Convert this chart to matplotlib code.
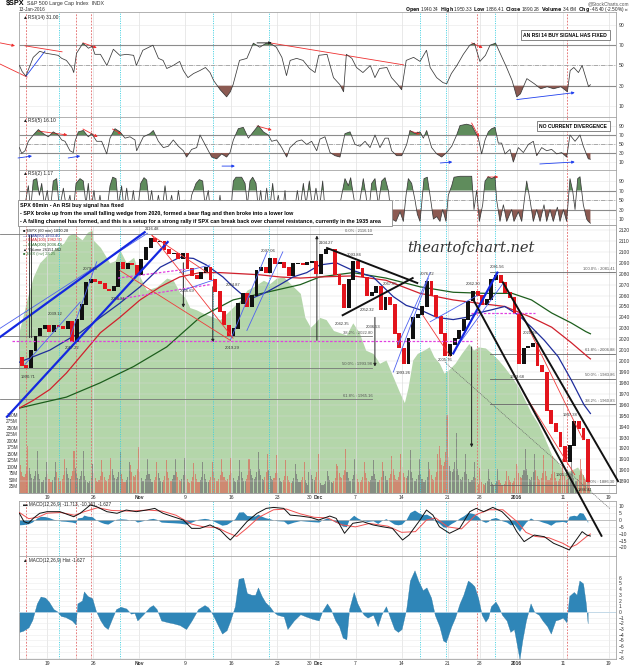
import matplotlib
import numpy as np

matplotlib.use("Agg")
import matplotlib.pyplot as plt
from matplotlib.patches import Rectangle

W, H = 640, 668
LEFT, RIGHT = 19.4, 616.0
PX_PER_DAY = 9.21
X_MAX = (RIGHT - LEFT) / PX_PER_DAY

plt.rcParams["font.family"] = ["Liberation Sans", "DejaVu Sans"]

# ---------------------------------------------------------------- data
# x axis = trading days since the Oct 14 2015 open (half sessions count 0.5)
WEEK_TICKS = [3, 8, 13, 18, 23, 28, 31.5, 32.5, 36.5, 41.5, 46.5, 50, 54, 59, 64]
WEEK_LABELS = ["19", "26", "Nov", "9", "16", "23", "30", "Dec", "7", "14", "21", "28", "2016", "11", "19"]
BOLD_LABELS = {"Nov", "Dec", "2016"}
RED_EVENTS = [0.72, 6.1, 7.8, 49.7, 59.5]
CYAN_EVENTS = [4.3, 10.9, 21.0, 27.1, 43.5, 46.3, 51.6]

# half-session closes, first value is the open of Oct 14
PRICE_CLOSE = [
    2003, 1996, 1994, 2010, 2023, 2030, 2033, 2027, 2033, 2032, 2030, 2036, 2018,
    2038, 2052, 2072, 2075, 2073, 2071, 2066, 2065, 2068, 2090, 2085, 2089, 2088,
    2079, 2093, 2104, 2112, 2109, 2110, 2102, 2098, 2099, 2094, 2099, 2085, 2078,
    2076, 2081, 2086, 2075, 2064, 2045, 2033, 2023, 2030, 2053, 2062, 2050, 2060,
    2083, 2086, 2081, 2094, 2089, 2090, 2086, 2078, 2089, 2089, 2088, 2090, 2091,
    2080, 2098, 2102, 2102, 2079, 2070, 2049, 2075, 2091, 2085, 2077, 2060, 2063,
    2068, 2047, 2058, 2052, 2025, 2012, 1998, 2021, 2040, 2043, 2050, 2073, 2060,
    2041, 2025, 2005, 2015, 2021, 2028, 2038, 2055, 2064, 2060, 2052, 2056, 2075,
    2078, 2072, 2063, 2058, 2044, 1998, 2012, 2013, 2016, 1996, 1990, 1955, 1943,
    1935, 1922, 1908, 1923, 1945, 1938, 1928, 1890,
]

MA50_X = [0, 1.5, 3.3, 5.5, 6.6, 8.8, 10.9, 13.1, 15.3, 17.4, 18.9, 20.3, 22.1, 23.2, 24.3,
          25.4, 26.8, 28.3, 29.7, 31.2, 32.6, 34.4, 36.2, 38.4, 40.6, 42.0, 43.5, 45.3,
          47.1, 48.5, 49.8, 51.3, 52.7, 54.2, 55.6, 57.0, 58.5, 59.9, 61.3, 62.0]
MA50_V = [1999, 2004, 2010, 2021, 2026, 2040, 2053, 2068, 2086, 2095, 2094, 2088, 2077, 2068,
          2060, 2058, 2063, 2070, 2077, 2081, 2088, 2090, 2083, 2077, 2059, 2051, 2047, 2040,
          2038, 2040, 2044, 2047, 2050, 2042, 2031, 2019, 2004, 1983, 1960, 1952]
MA100_X = [0, 1.5, 3.3, 5.1, 6.9, 8.8, 10.9, 13.1, 15.3, 17.4, 19.6, 21.8, 24.0, 26.1, 28.3,
           30.5, 32.6, 36.2, 39.8, 43.5, 47.1, 49.8, 52.7, 55.6, 57.8, 59.9, 61.7, 62.0]
MA100_V = [1957, 1964, 1974, 1989, 2007, 2026, 2040, 2056, 2068, 2077, 2081, 2081, 2080, 2079,
           2077, 2076, 2077, 2078, 2074, 2062, 2056, 2053, 2050, 2040, 2031, 2017, 2004, 2002]
MA200_X = [0, 1.5, 5.1, 8.75, 12.4, 16.0, 19.6, 23.2, 26.85, 30.5, 32.6, 36.2, 39.8, 43.5,
           47.1, 50.6, 53.5, 55.6, 57.8, 59.9, 61.5, 62.0]
MA200_V = [1957, 1960, 1967, 1980, 1995, 2013, 2040, 2056, 2063, 2070, 2077, 2081, 2076, 2068,
           2063, 2062, 2062, 2056, 2044, 2035, 2027, 2025]

# light green overlay, in price-panel units
AREA_X = [0, 0.3, 0.9, 1.5, 2.2, 3.0, 3.7, 4.8, 5.3, 5.9, 6.8, 7.4, 7.9, 8.0, 8.8, 9.3, 9.8,
          10.4, 10.9, 11.6, 12.4, 13.1, 13.8, 14.9, 16.0, 16.7, 17.4, 18.0, 18.5, 19.2, 19.9,
          21.1, 21.8, 22.9, 24.0, 24.7, 25.4, 26.5, 27.2, 27.9, 28.7, 29.4, 30.5, 31.0, 31.6,
          32.1, 32.6, 33.3, 34.1, 34.8, 35.5, 36.2, 36.9, 37.6, 38.4, 39.1, 39.8, 40.6, 41.3,
          41.8, 42.2, 42.7, 43.2, 43.9, 44.5, 45.0, 45.6, 46.1, 46.6, 47.3, 48.0, 48.8, 49.3,
          49.8, 50.6, 51.3, 52.0, 52.7, 53.5, 54.2, 54.9, 55.6, 56.3, 57.0, 57.8, 58.5, 59.2,
          59.9, 60.6, 61.4, 61.7, 62.0]
AREA_V = [2028, 2038, 2059, 2077, 2090, 2097, 2102, 2108, 2115, 2117, 2111, 2118, 2120, 2111,
          2104, 2097, 2090, 2092, 2102, 2090, 2095, 2077, 2065, 2068, 2076, 2074, 2063, 2058,
          2049, 2047, 2044, 2040, 2038, 2047, 2056, 2065, 2068, 2074, 2071, 2076, 2077, 2071,
          2062, 2040, 2031, 2035, 2040, 2038, 2028, 2026, 2024, 2035, 2026, 2010, 2007, 1998,
          2001, 1985, 1971, 1962, 1976, 2001, 2007, 2010, 2013, 2004, 1998, 1989, 1992, 1998,
          2007, 2016, 2010, 2013, 2012, 2007, 2001, 1994, 1985, 1976, 1964, 1952, 1943, 1930,
          1914, 1907, 1898, 1900, 1903, 1893, 1884, 1884]

# volume: tallest hourly bar of each session (M) and the typical hourly profile
SESSION_HALF = [31, 50]  # Nov 27 and Dec 24 sessions
VOL_PEAK = [180, 160, 120, 120, 130, 160, 160, 110, 125, 135, 155, 120, 175, 130, 120, 125,
            130, 135, 115, 120, 120, 130, 135, 125, 130, 155, 150, 145, 125, 110, 120, 80,
            150, 85, 110, 170, 130, 120, 125, 120, 140, 150, 165, 130, 120, 150, 300, 230,
            150, 120, 95, 90, 90, 85, 110, 170, 150, 145, 140, 130, 140, 130, 150]
VOL_PROFILE = [0.6, 0.45, 0.36, 0.34, 0.4, 0.52, 1.0]
VOL_TICKS = [25, 50, 75, 100, 125, 150, 175, 200, 225, 250, 275, 300]

RSI14_X = [0, 0.3, 0.7, 1.5, 2.2, 2.9, 3.6, 4.2, 4.6, 5.1, 5.7, 5.9, 6.2, 6.9, 7.5, 7.9, 8.2,
           8.8, 9.5, 10.2, 10.9, 11.6, 12.4, 12.7, 13.4, 14.5, 15.1, 15.6, 16.0, 16.7, 17.4,
           17.8, 18.3, 18.9, 19.6, 20.2, 20.7, 21.1, 21.8, 22.5, 22.9, 23.2, 23.9, 24.7, 25.4,
           26.1, 26.8, 27.2, 27.9, 28.5, 29.0, 29.4, 30.1, 30.8, 31.5, 32.1, 32.5, 33.4, 34.1,
           34.8, 35.2, 35.5, 36.1, 36.6, 37.3, 38.1, 38.6, 39.1, 39.9, 40.4, 41.1, 41.5, 42.0,
           42.8, 43.5, 44.2, 44.6, 45.3, 46.0, 46.4, 46.9, 47.5, 48.2, 48.9, 49.4, 50.0, 50.6,
           51.1, 51.7, 52.4, 52.9, 53.5, 54.0, 54.4, 55.1, 55.9, 56.6, 57.3, 58.0, 58.8, 59.5,
           59.8, 60.2, 60.7, 61.1, 61.8, 62.0]
RSI14_V = [50, 44, 39.5, 58, 64, 62, 61, 60, 57, 55, 48, 43, 62, 72, 67, 69, 61, 61, 50, 66,
           60, 61, 60, 50, 65, 70, 57, 55, 47, 50, 54, 45, 38, 42, 45, 48, 43, 35, 26, 19, 24,
           31, 55, 57, 72, 68, 72, 72, 68, 58, 40, 55, 57, 55, 47, 43, 60, 61, 38, 31, 24, 61,
           57, 48, 43, 50, 38, 47, 48, 38, 31, 26, 55, 58, 54, 65, 48, 38, 33, 32, 42, 50, 61,
           70, 72, 54, 60, 70, 72, 58, 48, 35, 19, 22, 37, 32, 27, 29, 27, 29, 24, 45, 48, 43,
           50, 29, 31]

RSI5_X = [0.0, 0.25, 0.61, 0.97, 1.51, 2.06, 2.6, 3.14, 3.68, 4.23, 4.59, 4.95, 5.49, 5.86,
          6.04, 6.4, 6.94, 7.48, 7.85, 8.39, 8.93, 9.48, 9.84, 10.38, 10.92, 11.47, 12.01,
          12.55, 12.73, 13.46, 14.18, 14.54, 15.09, 15.63, 16.17, 16.71, 17.26, 17.8, 18.16,
          18.7, 19.25, 19.61, 20.33, 20.88, 21.42, 21.96, 22.5, 22.87, 23.23, 23.77, 24.31,
          24.86, 25.4, 25.94, 26.49, 27.03, 27.39, 27.93, 28.48, 29.02, 29.38, 30.11, 30.65,
          31.19, 31.73, 32.28, 32.64, 33.18, 33.73, 34.27, 34.81, 35.35, 35.9, 36.44, 36.98,
          37.53, 38.07, 38.61, 39.15, 39.7, 40.06, 40.42, 40.96, 41.51, 42.05, 42.41, 42.95,
          43.5, 43.86, 44.22, 44.76, 45.31, 45.85, 46.39, 46.94, 47.48, 47.84, 48.56, 49.11,
          49.47, 49.83, 50.19, 50.56, 50.92, 51.28, 51.64, 52.0, 52.36, 52.73, 53.27, 53.63,
          54.17, 54.72, 55.26, 55.8, 56.17, 56.71, 57.25, 57.79, 58.34, 58.88, 59.42, 59.78,
          60.33, 60.87, 61.23, 61.77, 62.0]
RSI5_V = [42, 29, 35, 56, 70, 82, 73, 66, 77, 70, 59, 56, 35, 31, 56, 77, 80, 66, 73, 56, 56,
          28, 63, 84, 77, 63, 66, 59, 35, 66, 73, 80, 56, 42, 45, 59, 45, 35, 21, 38, 42, 70,
          42, 21, 17, 28, 21, 31, 59, 84, 87, 63, 77, 91, 77, 70, 56, 59, 42, 21, 42, 56, 59,
          49, 56, 35, 61, 66, 31, 24, 21, 73, 77, 49, 45, 56, 42, 70, 42, 63, 63, 35, 24, 24,
          49, 80, 73, 77, 63, 80, 42, 28, 21, 31, 45, 70, 91, 94, 91, 77, 63, 28, 59, 77, 84,
          87, 52, 52, 28, 38, 10, 42, 31, 49, 56, 24, 42, 35, 38, 28, 31, 21, 70, 56, 70, 45,
          17, 16.1]

RSI2_X = [0.0, 0.43, 0.97, 1.22, 1.51, 1.88, 2.17, 2.42, 2.71, 3.03, 3.32, 3.68, 4.05, 4.34,
          4.77, 5.13, 5.49, 5.78, 6.15, 6.58, 6.94, 7.23, 7.48, 7.74, 8.1, 8.39, 8.75, 9.11,
          9.48, 9.84, 10.13, 10.49, 10.74, 11.1, 11.36, 11.65, 12.01, 12.37, 12.73, 13.17,
          13.53, 13.82, 14.11, 14.36, 14.72, 15.09, 15.45, 15.81, 16.17, 16.53, 16.9, 17.26,
          17.62, 17.98, 18.34, 18.7, 19.18, 19.54, 19.9, 20.15, 20.51, 20.77, 21.06, 21.42,
          21.78, 22.07, 22.5, 22.87, 23.23, 23.52, 24.13, 24.5, 24.75, 25.04, 25.33, 25.69,
          25.94, 26.2, 26.49, 26.85, 27.14, 27.5, 27.79, 28.11, 28.48, 28.84, 29.09, 29.38,
          29.74, 30.18, 30.47, 30.83, 31.12, 31.48, 31.84, 32.2, 32.57, 32.93, 33.18, 33.54,
          33.91, 34.45, 34.99, 35.35, 35.72, 35.97, 36.26, 36.62, 36.98, 37.34, 37.63, 37.89,
          38.25, 38.61, 38.97, 39.34, 39.7, 40.06, 40.42, 40.89, 41.33, 41.69, 41.98, 42.23,
          42.59, 42.95, 43.21, 43.5, 43.93, 44.29, 44.66, 44.95, 45.31, 45.67, 45.96, 46.32,
          46.57, 46.94, 47.19, 47.84, 48.56, 49.11, 49.36, 49.65, 49.94, 50.3, 50.56, 50.92,
          51.28, 51.64, 51.82, 52.18, 52.55, 52.91, 53.45, 53.7, 54.17, 54.54, 55.08, 55.44,
          55.8, 56.17, 56.53, 56.96, 57.25, 57.61, 57.97, 58.41, 58.7, 59.06, 59.42, 59.78,
          60.07, 60.33, 60.62, 60.87, 61.23, 61.59, 61.77, 62.0]
RSI2_V = [40, 20, 80, 30, 92, 95, 60, 85, 40, 70, 20, 90, 95, 30, 75, 30, 60, 10, 85, 95, 90,
          40, 85, 30, 70, 20, 60, 10, 25, 80, 98, 95, 40, 80, 30, 75, 20, 70, 10, 85, 97, 92,
          40, 70, 15, 60, 20, 80, 25, 60, 10, 70, 20, 50, 10, 60, 85, 93, 90, 40, 70, 20, 45,
          10, 60, 10, 40, 5, 90, 98, 98, 85, 40, 90, 98, 85, 30, 70, 20, 75, 25, 85, 30, 60,
          10, 70, 10, 40, 10, 70, 30, 85, 40, 90, 30, 75, 30, 90, 30, 10, 40, 5, 60, 95, 80,
          97, 60, 20, 50, 95, 60, 15, 85, 95, 40, 90, 97, 70, 10, 5, 25, 5, 60, 95, 85, 50,
          20, 5, 95, 98, 50, 10, 15, 5, 30, 5, 60, 80, 98, 100, 100, 100, 30, 70, 5, 40, 90,
          99, 95, 99, 50, 5, 40, 5, 30, 5, 25, 5, 90, 50, 5, 30, 5, 40, 5, 30, 5, 35, 5, 30, 5,
          95, 70, 30, 95, 99, 40, 10, 5, 1.17]

MACD_X = [0, 0.5, 0.97, 1.5, 2.2, 3.0, 4.4, 5.9, 6.6, 7.7, 8.4, 9.5, 10.6, 11.6, 12.7, 13.8,
          14.7, 15.6, 16.7, 17.8, 18.7, 19.6, 20.7, 21.8, 22.5, 22.9, 23.6, 24.7, 25.8, 26.8,
          27.6, 28.7, 29.4, 30.5, 31.6, 32.5, 33.7, 34.4, 35.3, 36.2, 37.3, 38.4, 39.4, 40.5,
          41.6, 42.3, 43.5, 44.2, 44.9, 45.6, 46.7, 47.8, 48.9, 49.6, 50.4, 51.4, 52.4, 53.3,
          54.0, 54.8, 55.9, 57.0, 58.0, 58.9, 59.7, 60.2, 61.1, 61.6, 62.0]
MACD_V = [4.9, -1.2, -2.4, 1.2, 4.9, 6.1, 6.1, 2.4, 4.9, 11, 9.7, 6.1, 4.9, 7.3, 6.1, 7.3, 8.5,
          4.9, 2.4, 0, -6.1, -6.1, -3.6, -7.3, -12.2, -14.6, -9.7, -1.2, 4.9, 8.5, 9.2, 8.5,
          3.6, 2.9, 1.9, 0, 2.9, 1.2, -9.7, -2.4, -1.2, -3.6, -4.9, -6.1, -14.6, -11, 0, 7.3,
          3.6, -4.9, -9.7, -6.1, 6.1, 8.5, 6.1, 9.2, 6.1, 0, -8.5, -15.8, -11, -12.2, -17,
          -19.5, -21.9, -17, -8.5, -11, -11.7]
SIGNAL_X = [0, 1, 2, 3, 4.5, 6, 7, 8.5, 10, 12, 14, 15.5, 17, 18.7, 20, 21.5, 22.5, 23.6, 24.7,
            26, 27.6, 29, 30.5, 32, 33.5, 35, 36.5, 38, 40, 41.5, 43, 44.2, 45.2, 46.5, 48,
            49.6, 51, 52.5, 54, 55, 56, 57.5, 59, 59.8, 60.5, 61.6, 62.0]
SIGNAL_V = [5.5, 1, 2, 5, 5.5, 3.5, 6, 9, 7, 6.5, 7.3, 6.5, 3.5, -3, -5, -5.5, -9, -12, -6, 2,
            7.5, 8, 4.5, 2, 1.5, -3.5, -5, -2.5, -4.5, -9, -8.5, 0, 1.5, -5, -6.5, 4, 7.5, 7.5,
            -1, -9, -12, -13, -17, -20, -18, -12, -10.2]

HIST_X = [0.0, 0.4, 0.99, 1.4, 1.9, 2.3, 2.8, 3.2, 3.7, 4.1, 4.5, 5.0, 5.7, 6.1, 6.3, 6.8, 7.0,
          7.4, 7.9, 8.3, 8.8, 9.2, 9.6, 10.1, 10.5, 11.0, 11.6, 12.1, 12.5, 12.8, 13.4, 14.1,
          14.5, 14.9, 15.4, 16.1, 16.7, 17.4, 18.1, 18.7, 19.4, 20.1, 20.5, 21.0, 21.6, 22.0,
          22.5, 22.9, 23.4, 23.8, 24.3, 24.7, 25.2, 25.6, 25.9, 26.3, 26.7, 27.2, 27.6, 28.0,
          28.7, 29.1, 29.8, 30.5, 31.1, 31.8, 32.5, 32.9, 33.4, 33.8, 34.3, 34.7, 35.1, 35.5,
          35.8, 36.3, 36.7, 37.1, 37.4, 37.8, 38.4, 38.9, 39.3, 39.8, 40.2, 40.7, 41.1, 41.5,
          42.0, 42.4, 42.9, 43.3, 43.8, 44.2, 44.7, 45.1, 45.6, 46.0, 46.3, 46.9, 47.3, 47.8,
          48.2, 48.7, 49.1, 49.4, 49.8, 50.2, 50.6, 50.9, 51.2, 51.7, 52.0, 52.4, 52.9, 53.3,
          53.7, 54.1, 54.3, 54.6, 55.0, 55.5, 55.9, 56.4, 56.8, 57.3, 57.7, 58.2, 58.6, 59.0,
          59.4, 59.7, 60.2, 60.5, 60.8, 61.2, 61.5, 61.7]
HIST_V = [-3.5, -3.3, -2.7, -1.4, 1.5, 2.7, 2.5, 1.8, 0.5, 0.1, -0.7, -0.9, -1.5, -2.2, 1.5,
          2.0, 3.6, 2.8, 2.4, 0.2, -1.5, -2.5, -3.0, -1.0, 0.5, 0.9, 0.6, -0.3, -0.2, -1.5,
          -0.5, 0.8, 1.2, 0.5, -1.5, -1.8, -2.0, -2.3, -3.0, -1.5, 0.5, 1.2, 0.8, -0.5, -2.5,
          -3.8, -3.2, -1.5, 1.0, 5.8, 6.0, 3.3, 3.0, 3.0, 4.3, 2.8, 1.7, 0.9, 0.0, -0.5, -0.8,
          -3.0, -1.5, -0.4, -0.8, -1.2, -1.5, 0.2, 1.5, 0.5, -1.5, -2.5, -4.5, -4.8, 0.5, 3.5,
          1.5, 0.2, -0.5, -1.0, -0.5, -2.5, -0.5, 1.0, -0.8, -3.0, -3.5, -3.0, 0.5, 5.5, 7.3,
          5.5, 3.8, 4.3, 2.5, -0.5, -2.5, -5.0, -5.3, -2.5, -1.0, 1.5, 3.0, 5.5, 5.0, 4.5, 2.5,
          -0.5, -1.7, -1.0, 1.0, 1.8, 1.0, -0.5, -1.5, -3.5, -3.0, -6.5, -8.3, -5.0, -1.5, 1.5,
          0.0, -0.5, -1.5, -2.5, -3.8, -1.5, -1.3, -1.0, -1.8, 2.8, 3.5, 3.0, 5.5, 5.0, 1.5,
          -2.0]

# drawn studies, (trading day, price)
BLUE_THICK = [((-2.1, 2022), (13.6, 2118)), ((-1.35, 1949), (16.1, 2109)), ((47.1, 2007), (51.9, 2081))]
BLUE_THIN = [((-2.1, 2030), (13.9, 2117)), ((0.6, 1997), (6.6, 2054)), ((5.5, 2022), (8.4, 2091)),
             ((17.4, 2081), (20.7, 2088)), ((17.8, 2065), (21.0, 2074)), ((22.9, 2019), (26.9, 2100)),
             ((24.7, 2028), (28.6, 2100)), ((40.6, 1990), (44.4, 2076)), ((41.1, 2015), (44.6, 2081)),
             ((44.6, 2036), (49.7, 2060)), ((47.5, 2013), (52.5, 2071))]
RED_THIN = [((14.4, 2115), (23.2, 2021)), ((14.4, 2115), (20.4, 2081)), ((10.9, 2083), (22.9, 2019)),
            ((43.8, 2042), (46.8, 2004)), ((55.4, 2028), (61.2, 1928)), ((54.9, 1969), (60.3, 1896))]
BLACK_THICK = [((33.4, 2103.5), (43.2, 2071.5)), ((35.1, 2042), (42.7, 2076)),
               ((49.3, 2056), (63.2, 1840)), ((52.5, 2072), (65.0, 1890))]
BLACK_DOTTED = [((46.2, 1999), (64.1, 1865))]
MAGENTA = [((-0.8, 2018.3), (49.1, 2018.3)), ((49.0, 2044), (56.0, 2044)),
           ((10.2, 2056), (20.7, 2070)), ((10.7, 2076), (18.0, 2084))]
DROP_ARROWS = [(17.8, 2090, 2049), (21.0, 2068, 2017), (32.3, 2019, 2115),
               (38.6, 2040, 1995), (49.1, 2013, 1921)]
FIB_LEFT = [("0.0%", 2116.10), ("38.2%", 2022.80), ("50.0%", 1993.98), ("61.8%", 1965.16)]
FIB_RIGHT = [("100.0%", 2081.41), ("61.8%", 2006.88), ("50.0%", 1983.86),
             ("38.2%", 1960.83), ("0.0%", 1886.30)]
PRICE_TAGS = [("2116.48", 14.4, 2121), ("1990.71", 0.9, 1985), ("2039.12", 3.9, 2043),
              ("2017.22", 5.7, 2012), ("2079.74", 7.7, 2084), ("2058.84", 10.7, 2057),
              ("2066.69", 18.2, 2064), ("2019.29", 23.1, 2012), ("2064.87", 23.2, 2070),
              ("2097.06", 27.0, 2101), ("2104.27", 33.3, 2108), ("2093.84", 36.3, 2097),
              ("2042.35", 35.0, 2034), ("2052.32", 37.7, 2047), ("2036.53", 38.4, 2031),
              ("2067.65", 40.2, 2071), ("1993.26", 41.7, 1989), ("2076.72", 44.3, 2080),
              ("2005.76", 46.2, 2001), ("2062.30", 49.3, 2071), ("2081.56", 51.9, 2086),
              ("1989.68", 54.0, 1985), ("2021.94", 55.5, 2026), ("1947.38", 59.8, 1951),
              ("1901.10", 59.0, 1896), ("1886.41", 61.4, 1882)]

RSI14_MARKS = [((-2.1, 72.3), (-0.48, 69.4), "r", True), ((0.61, 69.4), (4.63, 63.5), "r", False),
               ((-2.1, 51.4), (0.83, 38.6), "r", False), ((0.72, 39.5), (2.78, 64.2), "b", False),
               ((6.9, 72.3), (8.4, 67.4), "r", True), ((25.8, 72.3), (27.4, 72.3), "k", True),
               ((27.2, 72.3), (41.7, 50.6), "r", False), ((49.1, 72.3), (50.3, 67.4), "r", True),
               ((54.0, 16.3), (60.3, 23.2), "b", True)]
RSI5_MARKS = [((2.0, 78.9), (5.2, 70), "r", True), ((-0.15, 18.9), (1.37, 23.3), "b", True),
              ((5.3, 18.9), (6.6, 23.3), "b", True), ((6.9, 83.3), (8.5, 65.6), "r", True),
              ((10.1, 83.3), (11.1, 72.2), "r", True), ((22.0, 0.9), (23.4, 0.9), "b", True),
              ((25.8, 90), (27.4, 81), "r", True), ((42.4, 78.9), (43.5, 72.2), "r", True),
              ((49.1, 96.7), (49.9, 65.6), "r", True), ((45.7, 7.8), (47.0, 10), "b", True),
              ((56.5, 5.6), (60.3, 10), "b", True)]
RSI2_MARKS = [((50.8, 98.4), (52.0, 98.4), "r", True)]

MARK_COLORS = {"r": "#ee3030", "b": "#2040ee", "k": "#111111"}
UP_COLOR, DOWN_COLOR = "#111111", "#e3141c"
FILL_HIGH, FILL_LOW = "#5f8c5c", "#8c5a52"

# ---------------------------------------------------------------- figure
fig = plt.figure(figsize=(W / 100, H / 100), dpi=100)
fig.patch.set_facecolor("white")


def add_panel(top, bottom, zorder=0):
    ax = fig.add_axes([LEFT / W, 1 - bottom / H, (RIGHT - LEFT) / W, (bottom - top) / H],
                      zorder=zorder)
    ax.set_xlim(0, X_MAX)
    for s in ax.spines.values():
        s.set_color("#a5a5a5")
        s.set_linewidth(0.6)
    ax.tick_params(length=0, labelsize=3.6, colors="#333333", pad=2)
    ax.yaxis.tick_right()
    ax.set_xticks(WEEK_TICKS)
    ax.set_xticklabels([])
    return ax


def event_lines(ax):
    ax.grid(axis="x", color="#e0e0e0", lw=0.5, zorder=0)
    for x in RED_EVENTS:
        ax.axvline(x, color="#e36a6a", lw=0.6, ls=(0, (2.2, 1.6)), zorder=1)
    for x in CYAN_EVENTS:
        ax.axvline(x, color="#3ccfe0", lw=0.6, ls=(0, (1.4, 1.4)), zorder=1)


def mark(ax, p0, p1, color, head, lw=0.6):
    if head:
        ax.annotate("", xy=p1, xytext=p0, annotation_clip=False,
                    arrowprops=dict(arrowstyle="-|>", color=color, lw=lw,
                                    mutation_scale=4, shrinkA=0, shrinkB=0))
    else:
        ax.plot([p0[0], p1[0]], [p0[1], p1[1]], color=color, lw=lw, clip_on=False)


def rsi_panel(top, bottom, ylim, xs, vs, label, marks):
    ax = add_panel(top, bottom)
    ax.set_ylim(*ylim)
    ax.set_yticks([90, 70, 50, 30, 10])
    ax.grid(axis="y", color="#e6e6e6", lw=0.4)
    event_lines(ax)
    ax.axhline(70, color="#8c8c8c", lw=0.8, zorder=2)
    ax.axhline(30, color="#8c8c8c", lw=0.8, zorder=2)
    ax.axhline(50, color="#8c8c8c", lw=0.5, ls="-.", zorder=2)
    xs, vs = np.asarray(xs, float), np.asarray(vs, float)
    ax.fill_between(xs, vs, 70, where=vs > 70, interpolate=True, color=FILL_HIGH, lw=0, zorder=3)
    ax.fill_between(xs, vs, 30, where=vs < 30, interpolate=True, color=FILL_LOW, lw=0, zorder=3)
    ax.plot(xs, vs, color="#3a3a3a", lw=0.55, zorder=4)
    ax.text(0.006, 0.975, label, transform=ax.transAxes, fontsize=3.5, va="top", color="#222222")
    for p0, p1, c, head in marks:
        mark(ax, p0, p1, MARK_COLORS[c], head)
    return ax


# header
fig.text(6 / W, 1 - 4 / H, "$SPX", fontsize=5.2, weight="bold", va="center")
fig.text(27 / W, 1 - 4 / H, "S&P 500 Large Cap Index  INDX", fontsize=3.8, va="center", color="#333333")
fig.text(19 / W, 1 - 9.5 / H, "13-Jan-2016", fontsize=3.4, va="center", color="#333333")
fig.text(629 / W, 1 - 4 / H, "@StockCharts.com", fontsize=3.4, ha="right", va="center", color="#555555")
fig.text(629 / W, 1 - 9.5 / H,
         r"$\bf{Open}$ 1940.34  $\bf{High}$ 1950.33  $\bf{Low}$ 1886.41  $\bf{Close}$ 1890.28  "
         r"$\bf{Volume}$ 34.6M  $\bf{Chg}$ -48.40 (-2.50%) ▾",
         fontsize=3.4, ha="right", va="center", color="#222222")

# RSI panels
ax14 = rsi_panel(12, 117, (-0.9, 102.8), RSI14_X, RSI14_V, "▲RSI(14) 31.00", RSI14_MARKS)
ax14.text(0.985, 0.78, "AN RSI 14 BUY SIGNAL HAS FIXED", transform=ax14.transAxes, fontsize=3.6,
          weight="bold", ha="right", va="center",
          bbox=dict(boxstyle="square,pad=0.5", fc="white", ec="#555555", lw=0.5))
ax5 = rsi_panel(117, 170, (-7.8, 110), RSI5_X, RSI5_V, "▲RSI(5) 16.10", RSI5_MARKS)
ax5.text(0.985, 0.83, "NO CURRENT DIVERGENCE", transform=ax5.transAxes, fontsize=3.6,
         weight="bold", ha="right", va="center",
         bbox=dict(boxstyle="square,pad=0.5", fc="white", ec="#555555", lw=0.5))
ax2 = rsi_panel(170, 225, (-2.6, 113.2), RSI2_X, RSI2_V, "▲RSI(2) 1.17", RSI2_MARKS)

# comment box over the RSI(2) panel
fig.add_artist(Rectangle((18 / W, 1 - 226 / H), 374 / W, 26 / H, transform=fig.transFigure,
                         fc="white", ec="#888888", lw=0.6, zorder=20))
comment = ["SPX 60min - An RSI buy signal has fixed",
           "- SPX broke up from the small falling wedge from 2020, formed a bear flag and then broke into a lower low",
           "- A falling channel has formed, and this is a setup for a strong rally if SPX can break back over "
           "channel resistance, currently in the 1935 area"]
for i, line in enumerate(comment):
    fig.text(20 / W, 1 - (205 + 8.5 * i) / H, line, fontsize=3.9, weight="bold", va="center", zorder=21)

# price panel: back axes hold the overlay area and volume, front axes the candles
axv = add_panel(225, 493, zorder=1)
axp = add_panel(225, 493, zorder=5)
axp.patch.set_visible(False)
axp.set_ylim(1879.2, 2124.6)
axv.set_ylim(-0.8, 1029)
axv.yaxis.tick_left()
axv.set_yticks(VOL_TICKS)
axv.set_yticklabels([f"{v}M" for v in VOL_TICKS])
axv.tick_params(labelsize=3.3, pad=1)
axv.fill_between(AREA_X, 1870, AREA_V, color="#b4d6aa", lw=0, transform=axp.transData, zorder=1)

closes = np.asarray(PRICE_CLOSE, float)
half_x = np.arange(len(closes)) * 0.5

sess_len = [0.5 if i in SESSION_HALF else 1.0 for i in range(len(VOL_PEAK))]
sess_start = np.concatenate([[0.0], np.cumsum(sess_len)[:-1]])
for start, length, peak in zip(sess_start, sess_len, VOL_PEAK):
    n_bars = 7 if length == 1.0 else 4
    profile = VOL_PROFILE if n_bars == 7 else VOL_PROFILE[:3] + VOL_PROFILE[-1:]
    bx = start + (np.arange(n_bars) + 0.5) * length / n_bars
    idx = np.clip(np.searchsorted(half_x, bx), 1, len(closes) - 1)
    down = closes[idx] < closes[idx - 1]
    colors = np.where(down, "#d7705f", "#767676")
    axv.bar(bx, np.asarray(profile) * peak, width=length / n_bars * 0.8, color=colors,
            alpha=0.75, lw=0, zorder=2)

axp.set_yticks(np.arange(1890, 2121, 10))
axp.grid(axis="y", color="#d8d8d8", lw=0.35, alpha=0.8)
event_lines(axp)
axp.set_xticklabels(WEEK_LABELS)
for t in axp.get_xticklabels():
    t.set_fontsize(3.6)
    if t.get_text() in BOLD_LABELS:
        t.set_fontweight("bold")
axp.tick_params(axis="x", pad=1.5)

# fib levels
for name, lvl in FIB_LEFT:
    axp.plot([-2.1, 38.3], [lvl, lvl], color="#777777", lw=0.6, clip_on=False, zorder=3)
    axp.text(38.3, lvl + 1.2, f"{name} : {lvl:.2f}", fontsize=3.0, ha="right", va="bottom", color="#555555")
for name, lvl in FIB_RIGHT:
    axp.plot([51.1, 64.7], [lvl, lvl], color="#666666", lw=0.6, zorder=3)
    axp.text(64.6, lvl + 1.2, f"{name} : {lvl:.2f}", fontsize=3.0, ha="right", va="bottom", color="#555555")

# moving averages
axp.plot(MA200_X, MA200_V, color="#1d5e1d", lw=0.9, zorder=4)
axp.plot(MA100_X, MA100_V, color="#d0202c", lw=0.9, zorder=4)
axp.plot(MA50_X, MA50_V, color="#1f2d9c", lw=0.9, zorder=4)

# candles (open = previous close)
opens, shut = closes[:-1], closes[1:]
cx = half_x[1:] - 0.25
falling = shut < opens
axp.bar(cx, np.abs(shut - opens) + 0.8, bottom=np.minimum(opens, shut) - 0.4, width=0.42,
        color=np.where(falling, DOWN_COLOR, UP_COLOR), lw=0, zorder=5)

# drawn studies
for p0, p1 in MAGENTA:
    axp.plot([p0[0], p1[0]], [p0[1], p1[1]], color="#e040e0", lw=0.9, ls=(0, (2, 1.3)),
             clip_on=False, zorder=6)
for p0, p1 in BLUE_THIN:
    axp.plot([p0[0], p1[0]], [p0[1], p1[1]], color="#4f62f0", lw=0.6, clip_on=False, zorder=6)
for p0, p1 in BLUE_THICK:
    axp.plot([p0[0], p1[0]], [p0[1], p1[1]], color="#1428e0", lw=1.6, clip_on=False, zorder=6)
for p0, p1 in RED_THIN:
    axp.plot([p0[0], p1[0]], [p0[1], p1[1]], color="#f03a3a", lw=0.6, zorder=6)
for p0, p1 in BLACK_DOTTED:
    axp.plot([p0[0], p1[0]], [p0[1], p1[1]], color="#666666", lw=0.5, ls=(0, (1.5, 1.2)),
             clip_on=False, zorder=6)
for p0, p1 in BLACK_THICK:
    axp.plot([p0[0], p1[0]], [p0[1], p1[1]], color="#111111", lw=1.4, clip_on=False, zorder=7)
for x, y0, y1 in DROP_ARROWS:
    mark(axp, (x, y0), (x, y1), "#222222", True, lw=0.7)
for x in (1.0, 1.3):
    axp.plot([x, x], [2115, 2022], color="#222222", lw=0.6, zorder=6)

for text, x, y in PRICE_TAGS:
    axp.text(x, y, text, fontsize=3.0, ha="center", va="center", color="#333333", zorder=8)

axp.text(49.0, 2103.5, "theartofchart.net", fontsize=10.5, family="DejaVu Serif", style="italic",
         ha="center", va="center", color="#333333", zorder=8)

legend = [("■ $SPX (60 min) 1890.28", "#222222"), ("— EMA(50) 1933.40", "#1f2d9c"),
          ("— EMA(100) 1962.50", "#d0202c"), ("— EMA(200) 2036.48", "#1d5e1d"),
          ("▲ Volume 26151,562", "#222222"), ("■ $VIX (inv) 24.25", "#3d7a3d")]
for i, (line, color) in enumerate(legend):
    axp.text(0.006, 0.985 - i * 0.017, line, transform=axp.transAxes, fontsize=2.9, va="top",
             color=color, zorder=9)

# MACD panel
axm = add_panel(501, 556)
axm.set_ylim(-26.3, 13.9)
axm.set_yticks([10, 5, 0, -5, -10, -15, -20])
axm.grid(axis="y", color="#e6e6e6", lw=0.4)
event_lines(axm)
axm.fill_between(HIST_X, 0, HIST_V, color="#2f86b8", lw=0, zorder=2)
axm.axhline(0, color="#9a9a9a", lw=0.4, zorder=2)
axm.plot(SIGNAL_X, SIGNAL_V, color="#f05050", lw=0.7, zorder=3)
axm.plot(MACD_X, MACD_V, color="#111111", lw=0.7, zorder=4)
axm.text(0.006, 0.975, "▬ MACD(12,26,9) -11.713, -10.161, -1.627", transform=axm.transAxes,
         fontsize=3.3, va="top", color="#222222")

# MACD histogram panel
axh = add_panel(556, 659)
axh.set_ylim(-8.25, 9.8)
axh.set_yticks(np.arange(-8, 7, 1))
axh.grid(axis="y", color="#ececec", lw=0.4)
event_lines(axh)
axh.fill_between(HIST_X, 0, HIST_V, color="#2f86b8", lw=0.2, edgecolor="#1f6f9c", zorder=2)
axh.axhline(0, color="#bcd6e6", lw=0.6, zorder=3)
axh.set_xticklabels(WEEK_LABELS)
for t in axh.get_xticklabels():
    t.set_fontsize(3.6)
    if t.get_text() in BOLD_LABELS:
        t.set_fontweight("bold")
axh.tick_params(axis="x", pad=1.5)
axh.text(0.006, 0.985, "▲ MACD(12,26,9) Hist -1.627", transform=axh.transAxes, fontsize=3.3,
         va="top", color="#222222")

fig.savefig("out.png", dpi=100, facecolor="white")
